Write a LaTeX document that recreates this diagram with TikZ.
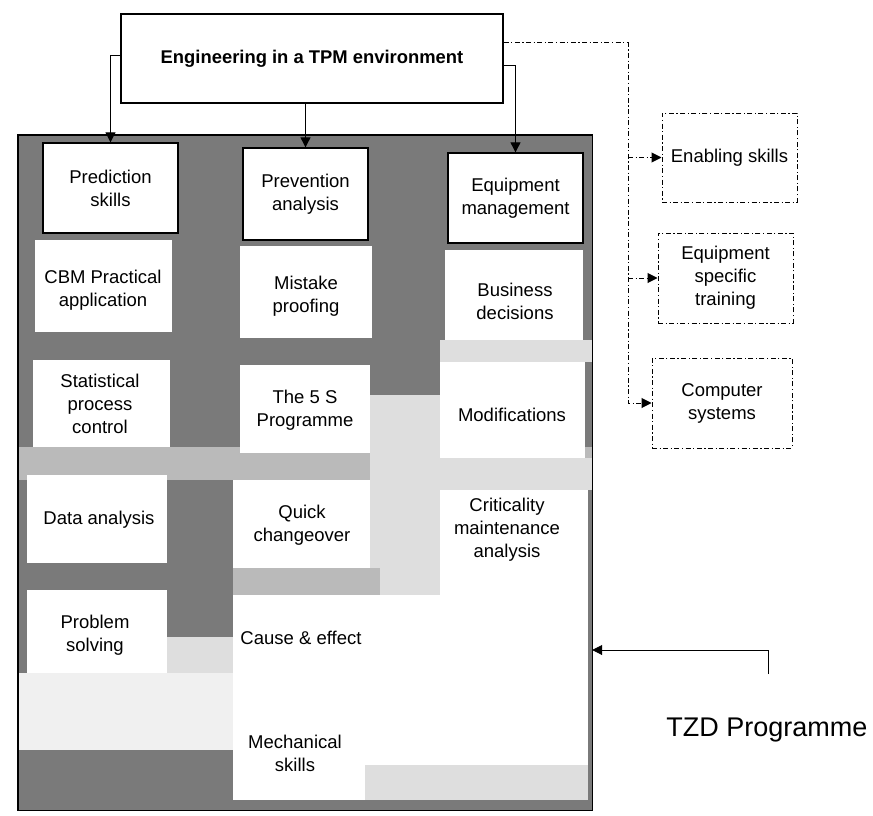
\documentclass[tikz,border=0pt]{standalone}
\usepackage{fontspec}
\setmainfont{Liberation Sans}
\usetikzlibrary{arrows.meta,calc}
\begin{document}
\begin{tikzpicture}[x=1pt,y=-1pt,
  txt/.style={font=\fontsize{18.5}{23}\selectfont,align=center,inner sep=0pt},
  hdr/.style={txt,draw=black,line width=1.3pt,fill=white},
  cell/.style={txt},
  sidebox/.style={txt,draw=black,line width=1pt,fill=white,dash pattern=on 5pt off 2.5pt on 1.2pt off 2.5pt},
  tip/.style={-{Triangle[length=10pt,width=10pt]}},
  conn/.style={line width=0.9pt,tip},
  ddconn/.style={line width=1pt,dash pattern=on 5pt off 2.5pt on 1.2pt off 2.5pt},
  dark/.style={fill=black!52},
  mid/.style={fill=black!27},
  light/.style={fill=black!13},
  pale/.style={fill=black!6},
  blank/.style={fill=white}
]
\useasboundingbox (0,0) rectangle (873,816);
\fill[white] (0,0) rectangle (873,816);

% big shaded panel
\node[dark,inner sep=0pt,minimum width=574pt,minimum height=675pt] (big) at (305,472.5) {};

% lighter halftone areas
\fill[mid] (18,447) rectangle (592,480);
\fill[light] (370,395) rectangle (440,570);
\fill[light] (440,340) rectangle (592,362);
\fill[light] (440,458) rectangle (592,490);
\fill[pale] (18,673) rectangle (233,750);
\fill[light] (167,637) rectangle (233,673);
\fill[mid] (233,568) rectangle (380,595);
\fill[light] (380,568) rectangle (440,595);

% white cells
\fill[blank] (35,240) rectangle (172,332);
\fill[blank] (33,360) rectangle (170,447);
\fill[blank] (27,475) rectangle (167,563);
\fill[blank] (27,590) rectangle (167,673);
\fill[blank] (240,246) rectangle (372,338);
\fill[blank] (240,365) rectangle (370,453);
\fill[blank] (233,480) rectangle (370,568);
\fill[blank] (445,250) rectangle (583,340);
\fill[blank] (440,362) rectangle (585,458);
\fill[blank] (440,490) rectangle (588,595);
\fill[blank] (233,595) rectangle (588,765);
\fill[blank] (233,765) rectangle (365,800);
\fill[light] (365,765) rectangle (588,800);

\draw[line width=1.4pt] (big.north west) rectangle (big.south east);

% title
\node[txt,draw=black,line width=1.3pt,fill=white,minimum width=382pt,minimum height=89pt,
      font=\fontsize{18.4}{22}\selectfont\bfseries] (title) at (312,58.5) {Engineering in a TPM environment};

% headers
\node[hdr,minimum width=135pt,minimum height=90pt] (pred) at (110.5,188) {Prediction\\skills};
\node[hdr,minimum width=125pt,minimum height=92pt] (prev) at (305.5,194) {Prevention\\analysis};
\node[hdr,minimum width=135pt,minimum height=90pt] (equip) at (515.5,198) {Equipment\\management};

% cells
\node[cell] (cbm) at (103,290) {CBM Practical\\application};
\node[cell] (stat) at (100,404) {Statistical\\process\\control};
\node[cell] (data) at (99,520) {Data analysis};
\node[cell] (prob) at (95,635) {Problem\\solving};
\node[cell] (mist) at (306,296) {Mistake\\proofing};
\node[cell] (five) at (305,410) {The 5 S\\Programme};
\node[cell] (quick) at (302,525) {Quick\\changeover};
\node[cell] (cause) at (301,638) {Cause \& effect};
\node[cell] (mech) at (295,753) {Mechanical\\skills};
\node[cell] (bus) at (515,301) {Business\\decisions};
\node[cell] (mod) at (512,415) {Modifications};
\node[cell] (crit) at (507,530) {Criticality\\maintenance\\analysis};

% side boxes
\node[sidebox,minimum width=135pt,minimum height=89pt] (enab) at (729.5,157.5) {Enabling skills};
\node[sidebox,minimum width=135pt,minimum height=90pt] (espec) at (725.5,278) {Equipment\\specific\\training};
\node[sidebox,minimum width=140pt,minimum height=90pt] (comp) at (722,403) {Computer\\systems};

% solid connectors
\draw[conn] ([yshift=3.5pt]title.west) -| (pred.north);
\draw[conn] (title.south -| prev.north) -- (prev.north);
\draw[conn] ([yshift=-6.5pt]title.east) -| (equip.north);

% dash-dot connectors
\coordinate (trunk) at (628,0);
\draw[ddconn,tip] ([yshift=15.5pt]title.east) -| (trunk |- comp.west) -- (comp.west);
\draw[ddconn,tip] (trunk |- enab.west) -- (enab.west);
\draw[ddconn,tip] (trunk |- espec.west) -- (espec.west);

% TZD programme
\node[font=\fontsize{27}{30}\selectfont,inner sep=0pt] (tzd) at (767,730) {TZD Programme};
\coordinate (tzdtop) at (768,674);
\coordinate (tzdbend) at (768,650);
\draw[conn] (tzdtop) -- (tzdbend) -- (tzdbend -| big.east);
\end{tikzpicture}
\end{document}
